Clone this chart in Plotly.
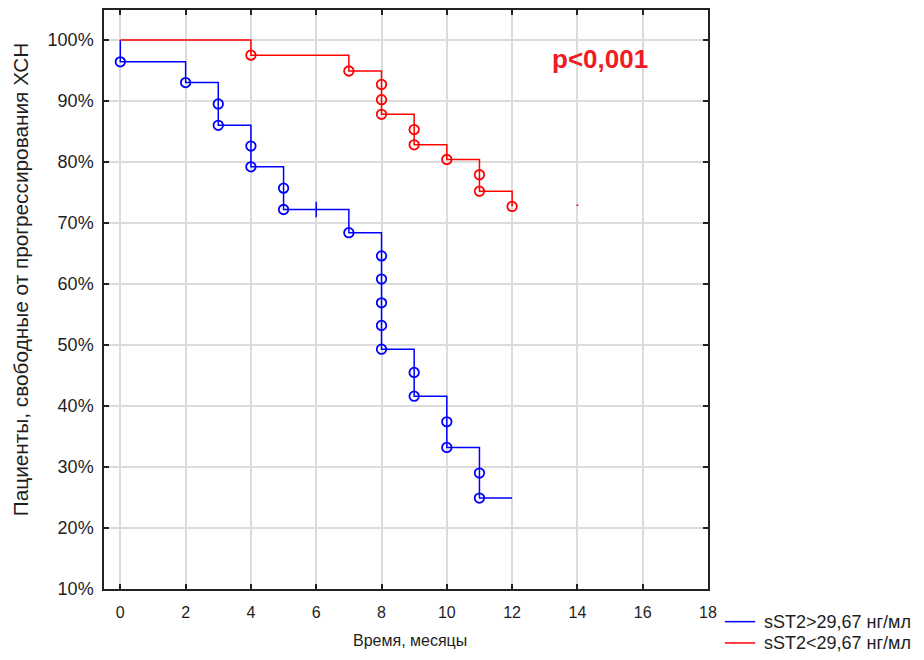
import plotly.graph_objects as go

# ---- data ----
blue_name = "sST2>29,67 нг/мл"
red_name = "sST2<29,67 нг/мл"

blue_time = [0, 2, 3, 3, 4, 4, 5, 5, 7, 8, 8, 8, 8, 8, 9, 9, 10, 10, 11, 11]
blue_surv = [96.4, 93.0, 89.5, 86.0, 82.6, 79.2, 75.7, 72.2, 68.4, 64.6, 60.8,
             56.9, 53.2, 49.3, 45.5, 41.6, 37.4, 33.2, 29.0, 24.9]
blue_cens_time = [6]
blue_cens_surv = [72.2]
blue_end_time = 12

red_time = [4, 7, 8, 8, 8, 9, 9, 10, 11, 11, 12]
red_surv = [97.5, 94.9, 92.7, 90.2, 87.8, 85.3, 82.8, 80.4, 77.9, 75.2, 72.7]
red_extra_time = [14]
red_extra_surv = [72.9]

x_ticks = [0, 2, 4, 6, 8, 10, 12, 14, 16, 18]
y_ticks = [10, 20, 30, 40, 50, 60, 70, 80, 90, 100]

p_text = "p<0,001"
x_title = "Время, месяцы"
y_title = "Пациенты, свободные от прогрессирования ХСН"

BLUE = "#0000ff"
RED = "#ff0000"
FONT = "Liberation Sans, Arial, sans-serif"
TXT = "#1e1e1e"

fig = go.Figure()

# step lines
bx = [0] + blue_time + [blue_end_time]
by = [100] + blue_surv + [blue_surv[-1]]
fig.add_trace(go.Scatter(x=bx, y=by, mode="lines", line=dict(color=BLUE, width=1.5, shape="hv"),
                         name=blue_name, showlegend=False))
rx = [0] + red_time
ry = [100] + red_surv
fig.add_trace(go.Scatter(x=rx, y=ry, mode="lines", line=dict(color=RED, width=1.5, shape="hv"),
                         name=red_name, showlegend=False))

# event markers
fig.add_trace(go.Scatter(x=blue_time, y=blue_surv, mode="markers", showlegend=False,
                         marker=dict(symbol="circle-open", size=9.5, color=BLUE, line=dict(width=1.8, color=BLUE))))
fig.add_trace(go.Scatter(x=red_time, y=red_surv, mode="markers", showlegend=False,
                         marker=dict(symbol="circle-open", size=9.5, color=RED, line=dict(width=1.8, color=RED))))
# censor tick
fig.add_trace(go.Scatter(x=blue_cens_time, y=blue_cens_surv, mode="markers", showlegend=False,
                         marker=dict(symbol="line-ns", size=11, color=BLUE, line=dict(width=1.5, color=BLUE))))
fig.add_trace(go.Scatter(x=red_extra_time, y=red_extra_surv, mode="markers", showlegend=False,
                         marker=dict(symbol="circle", size=2, color=RED, line=dict(width=0))))

fig.add_annotation(x=14.7, y=96.9, xref="x", yref="y", text="<b>" + p_text + "</b>", showarrow=False,
                   font=dict(family=FONT, size=26, color="#ee1c25"))

# axis titles as annotations for precise placement
fig.add_annotation(x=-0.139, y=0.535, xref="paper", yref="paper", text=y_title, textangle=-90,
                   showarrow=False, xanchor="center", yanchor="middle",
                   font=dict(family=FONT, size=20.8, color=TXT))
fig.add_annotation(x=0.507, y=-0.0897, xref="paper", yref="paper", text=x_title,
                   showarrow=False, xanchor="center", yanchor="middle",
                   font=dict(family=FONT, size=16, color=TXT))

# hand-placed legend (compact row spacing as in the reference)
legend_items = [(blue_name, BLUE, -0.0564), (red_name, RED, -0.0932)]
for name, col, ly in legend_items:
    fig.add_shape(type="line", xref="paper", yref="paper", x0=1.028, x1=1.078, y0=ly, y1=ly,
                  line=dict(color=col, width=1.5))
    fig.add_annotation(x=1.0894, y=ly, xref="paper", yref="paper", text=name, showarrow=False,
                       xanchor="left", yanchor="middle", font=dict(family=FONT, size=18, color=TXT))

# page has an 8px body margin: figure is sized/offset so the plot lands where the reference has it
fig.update_layout(
    width=916, height=652,
    margin=dict(l=96, r=216, t=1.5, b=71, autoexpand=False),
    paper_bgcolor="white", plot_bgcolor="white",
    font=dict(family=FONT, size=15, color=TXT),
    showlegend=False,
)
fig.update_xaxes(range=[-0.5, 18], tickvals=x_ticks, ticktext=[str(v) for v in x_ticks],
                 showgrid=True, gridcolor="#dcdcdc", gridwidth=1.5, zeroline=False,
                 showline=True, linecolor="#222", linewidth=1.5, mirror="ticks",
                 ticks="inside", ticklen=5, tickcolor="#222", tickwidth=1.5, automargin=False,
                 tickfont=dict(family=FONT, size=16, color=TXT), ticklabelstandoff=8)
fig.update_yaxes(range=[10, 104.9], tickvals=y_ticks, ticktext=[f"{v}%" for v in y_ticks],
                 showgrid=True, gridcolor="#dcdcdc", gridwidth=1.5, zeroline=False,
                 showline=True, linecolor="#222", linewidth=1.5, mirror="ticks",
                 ticks="inside", ticklen=5, tickcolor="#222", tickwidth=1.5, automargin=False,
                 tickfont=dict(family=FONT, size=18, color=TXT), ticklabelstandoff=5)

fig.write_html("out.html", config={"displayModeBar": False})
